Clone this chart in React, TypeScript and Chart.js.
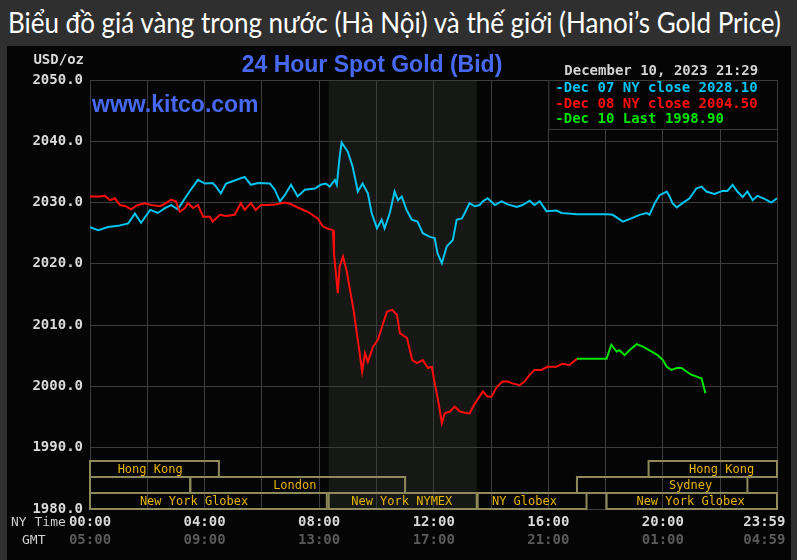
import React, { useEffect, useRef } from "react";
import { Chart, registerables } from "chart.js";

Chart.register(...registerables);

// ---------- texts ----------
const pageTitle = "Biểu đồ giá vàng trong nước (Hà Nội) và thế giới (Hanoi’s Gold Price)";
const chartTitle = "24 Hour Spot Gold (Bid)";
const siteText = "www.kitco.com";
const dateText = "December 10, 2023 21:29";
const yUnit = "USD/oz";
const nyTimeLabel = "NY Time";
const gmtLabel = "GMT";

// ---------- axes ----------
const yMin = 1980;
const yMax = 2050;
const yTicks = [1980, 1990, 2000, 2010, 2020, 2030, 2040, 2050];
const xMin = 0;
const xMax = 1439; // minutes, 00:00 .. 23:59 NY time
const gridMinutes = [0, 120, 240, 360, 480, 600, 720, 840, 960, 1080, 1200, 1320, 1439];
const labelMinutes = [0, 240, 480, 720, 960, 1200, 1439];
const nyTickLabels = ["00:00", "04:00", "08:00", "12:00", "16:00", "20:00", "23:59   "];
const gmtTickLabels = ["05:00", "09:00", "13:00", "17:00", "21:00", "01:00", "04:59   "];

// ---------- series (minutes after 00:00 NY time, USD/oz) ----------
const dec07Minutes = [0, 17, 38, 59, 80, 94, 107, 126, 142, 157, 170, 184, 199, 211, 226, 241, 257, 264, 274, 285, 303, 324, 337, 352, 377, 387, 398, 408, 421, 435, 450, 471, 483, 494, 502, 513, 517, 523, 527, 540, 550, 561, 571, 582, 590, 601, 611, 617, 628, 638, 645, 653, 663, 674, 686, 697, 712, 722, 728, 737, 747, 760, 768, 779, 785, 795, 806, 816, 823, 833, 848, 862, 875, 894, 906, 921, 931, 942, 956, 977, 988, 1020, 1084, 1095, 1116, 1130, 1151, 1166, 1172, 1183, 1193, 1208, 1214, 1220, 1229, 1241, 1256, 1270, 1281, 1291, 1308, 1325, 1335, 1346, 1356, 1367, 1377, 1388, 1398, 1413, 1427, 1439];
const dec07Values = [2026.0, 2025.5, 2026.0, 2026.2, 2026.6, 2028.2, 2026.7, 2028.8, 2028.3, 2029.1, 2029.6, 2028.9, 2030.7, 2032.1, 2033.7, 2033.1, 2033.2, 2032.6, 2031.5, 2033.1, 2033.6, 2034.2, 2032.9, 2033.2, 2033.1, 2032.1, 2030.2, 2031.2, 2032.9, 2031.0, 2032.1, 2032.3, 2032.9, 2033.1, 2032.6, 2033.7, 2032.9, 2037.5, 2039.8, 2038.3, 2035.9, 2031.8, 2033.1, 2031.5, 2028.3, 2025.8, 2027.2, 2025.8, 2028.3, 2031.8, 2030.4, 2031.0, 2028.8, 2027.2, 2026.9, 2025.0, 2024.4, 2024.2, 2021.7, 2020.1, 2022.8, 2023.9, 2027.2, 2027.4, 2028.3, 2029.9, 2029.4, 2029.6, 2030.2, 2030.7, 2029.6, 2030.2, 2029.7, 2029.3, 2029.6, 2030.3, 2029.6, 2030.2, 2028.6, 2028.7, 2028.3, 2028.1, 2028.1, 2028.0, 2026.9, 2027.3, 2028.0, 2028.3, 2028.0, 2029.9, 2031.2, 2031.8, 2031.0, 2029.9, 2029.2, 2029.9, 2030.7, 2032.3, 2032.6, 2031.8, 2031.4, 2031.9, 2031.9, 2032.9, 2031.8, 2030.9, 2031.8, 2030.4, 2031.1, 2030.6, 2030.0, 2030.7];

const dec08Minutes = [0, 21, 31, 42, 52, 63, 75, 86, 100, 115, 128, 147, 159, 170, 180, 188, 199, 205, 216, 226, 237, 251, 257, 272, 285, 303, 316, 324, 337, 347, 358, 373, 387, 408, 419, 435, 456, 477, 488, 496, 509, 511, 515, 519, 523, 530, 538, 544, 551, 561, 570, 576, 582, 593, 603, 614, 622, 633, 643, 649, 664, 675, 685, 697, 708, 716, 722, 729, 737, 743, 754, 764, 775, 785, 795, 806, 823, 833, 841, 852, 864, 875, 885, 900, 910, 921, 931, 946, 958, 977, 989, 1004, 1015, 1020];
const dec08Values = [2031.0, 2031.0, 2031.1, 2030.4, 2030.7, 2029.6, 2029.4, 2028.9, 2029.6, 2029.9, 2029.6, 2029.4, 2029.9, 2030.5, 2030.2, 2028.5, 2029.1, 2029.9, 2029.1, 2029.6, 2027.7, 2027.7, 2026.9, 2028.0, 2027.8, 2028.0, 2029.9, 2028.8, 2029.9, 2028.8, 2029.6, 2029.6, 2029.7, 2030.0, 2029.8, 2029.2, 2028.5, 2027.4, 2026.1, 2025.8, 2025.5, 2021.7, 2018.5, 2015.2, 2019.6, 2021.2, 2018.7, 2016.0, 2013.0, 2007.6, 2002.4, 2005.4, 2004.0, 2006.5, 2007.6, 2010.3, 2012.2, 2012.5, 2011.7, 2008.7, 2007.9, 2004.3, 2003.8, 2004.3, 2003.0, 2003.2, 2000.5, 1997.8, 1994.0, 1995.6, 1995.9, 1996.7, 1995.9, 1995.7, 1995.6, 1997.2, 1999.2, 1998.3, 1998.3, 1999.9, 2000.8, 2000.8, 2000.5, 2000.2, 2000.8, 2001.9, 2002.7, 2002.7, 2003.2, 2003.2, 2003.7, 2003.5, 2004.2, 2004.5];

const dec10Minutes = [1020, 1082, 1088, 1092, 1103, 1109, 1120, 1130, 1145, 1158, 1172, 1189, 1200, 1208, 1218, 1229, 1239, 1250, 1260, 1271, 1281, 1289];
const dec10Values = [2004.5, 2004.5, 2005.9, 2006.8, 2005.7, 2005.9, 2005.1, 2005.9, 2006.9, 2006.5, 2005.9, 2005.1, 2004.3, 2003.2, 2002.7, 2003.0, 2003.0, 2002.4, 2001.9, 2001.6, 2001.3, 1998.9];

// ---------- legend ----------
const legendLabels = ["-Dec 07 NY close 2028.10", "-Dec 08 NY close 2004.50", "-Dec 10 Last 1998.90"];
const seriesColors = ["#00c4f0", "#ff0d0d", "#00e400"];
const legendFromMinute = 960;
const legendBottomValue = 2042;

// ---------- trading sessions ----------
const sessionNames = ["Hong Kong", "", "London", "New York Globex", "New York NYMEX", "NY Globex", "Sydney", "Hong Kong", "New York Globex"];
const sessionRows = [0, 1, 1, 2, 2, 2, 1, 0, 2];
const sessionStarts = [0, 0, 210, 0, 500, 812, 1020, 1170, 1082];
const sessionEnds = [270, 210, 660, 496, 810, 1040, 1377, 1439, 1439];
const sessionLabelAt = [126, 105, 429, 218, 653, 910, 1258, 1323, 1258];
const sessionRowHeight = 2.61; // USD units per row
const shadeStart = 500; // NYMEX 08:20
const shadeEnd = 810; // 13:30

const gridColor = "#3d3d3d";
const monoFont = '"DejaVu Sans Mono", monospace';

function labelFor(list: string[]) {
  return (v: any) => {
    const i = labelMinutes.indexOf(Number(v));
    return i >= 0 ? list[i] : "";
  };
}

const decorPlugin = {
  id: "kitcoDecor",
  beforeDraw(chart: any) {
    const { ctx, chartArea, scales } = chart;
    ctx.save();
    ctx.fillStyle = "#050506";
    ctx.fillRect(0, 0, chart.width, chart.height);
    const l = scales.x.getPixelForValue(shadeStart);
    const r = scales.x.getPixelForValue(shadeEnd);
    ctx.fillStyle = "#151815";
    ctx.fillRect(l, chartArea.top, r - l, chartArea.bottom - chartArea.top);
    ctx.restore();
  },
  beforeDatasetsDraw(chart: any) {
    const { ctx, scales } = chart;
    const x = scales.x;
    const y = scales.y;
    ctx.save();
    ctx.lineWidth = 2;
    ctx.strokeStyle = "#8e8a5c";
    ctx.font = `12px ${monoFont}`;
    ctx.textAlign = "center";
    ctx.textBaseline = "middle";
    ctx.fillStyle = "#e6b400";
    sessionNames.forEach((name, i) => {
      const row = sessionRows[i];
      const bottom = y.getPixelForValue(yMin + (2 - row) * sessionRowHeight);
      const top = y.getPixelForValue(yMin + (3 - row) * sessionRowHeight);
      const l = x.getPixelForValue(sessionStarts[i]);
      const r = x.getPixelForValue(sessionEnds[i]);
      ctx.strokeRect(l, top, r - l, bottom - top);
      if (name) ctx.fillText(name, x.getPixelForValue(sessionLabelAt[i]), (top + bottom) / 2 + 1);
    });
    ctx.restore();
  },
  afterDatasetsDraw(chart: any) {
    const { ctx, chartArea, scales } = chart;
    const x = scales.x;
    const y = scales.y;
    ctx.save();
    // legend box
    const bl = x.getPixelForValue(legendFromMinute);
    const bt = chartArea.top;
    const bb = y.getPixelForValue(legendBottomValue);
    const br = chartArea.right;
    ctx.fillStyle = "#050506";
    ctx.fillRect(bl, bt, br - bl, bb - bt);
    ctx.strokeStyle = gridColor;
    ctx.lineWidth = 1;
    ctx.strokeRect(bl + 0.5, bt + 0.5, br - bl, bb - bt);
    ctx.font = `bold 14px ${monoFont}`;
    ctx.textAlign = "left";
    ctx.textBaseline = "middle";
    const offs = [8, 24, 39.5];
    legendLabels.forEach((t, i) => {
      ctx.fillStyle = seriesColors[i];
      ctx.fillText(t, bl + 7, bt + offs[i]);
    });
    // date
    ctx.fillStyle = "#d4d4d4";
    ctx.fillText(dateText, bl + 16, bt - 9);
    // titles
    ctx.fillStyle = "#4769f2";
    ctx.font = 'bold 23px "Liberation Sans", Arial, sans-serif';
    ctx.textAlign = "center";
    ctx.fillText(chartTitle, 365, 20);
    ctx.textAlign = "left";
    ctx.fillText(siteText, chartArea.left + 2, 60);
    // unit
    ctx.fillStyle = "#d8d8d8";
    ctx.font = `bold 14px ${monoFont}`;
    ctx.textAlign = "right";
    ctx.fillText(yUnit, chartArea.left - 6, 14);
    // NY Time / GMT
    ctx.font = `13px ${monoFont}`;
    ctx.textAlign = "left";
    ctx.fillStyle = "#cfcfcf";
    ctx.fillText(nyTimeLabel, 4, scales.x.top + 13.4);
    ctx.fillText(gmtLabel, 15, scales.x2.top + 11.4);
    ctx.restore();
  },
};

export default function App() {
  const canvasRef = useRef<HTMLCanvasElement>(null);
  const titleRef = useRef<HTMLSpanElement>(null);

  useEffect(() => {
    const t = titleRef.current;
    if (t) {
      const w = t.offsetWidth;
      if (w > 0) t.style.transform = `scaleX(${773 / w})`;
    }
    const canvas = canvasRef.current;
    if (!canvas) return;
    const mk = (mins: number[], vals: number[]) => mins.map((m, i) => ({ x: m, y: vals[i] }));
    const tickFont = { family: monoFont, size: 14, weight: "bold" as const };
    const chart = new Chart(canvas, {
      type: "line",
      data: {
        datasets: [
          { label: "Dec 10", data: mk(dec10Minutes, dec10Values), borderColor: seriesColors[2], borderWidth: 2, pointRadius: 0, tension: 0 },
          { label: "Dec 08", data: mk(dec08Minutes, dec08Values), borderColor: seriesColors[1], borderWidth: 2, pointRadius: 0, tension: 0 },
          { label: "Dec 07", data: mk(dec07Minutes, dec07Values), borderColor: seriesColors[0], borderWidth: 2, pointRadius: 0, tension: 0 },
        ],
      },
      options: {
        responsive: false,
        animation: false,
        devicePixelRatio: 1,
        events: [],
        layout: { padding: { top: 34, right: 14, left: 0, bottom: 0 } },
        plugins: { legend: { display: false }, tooltip: { enabled: false }, title: { display: false } },
        scales: {
          x: {
            type: "linear",
            min: xMin,
            max: xMax,
            position: "bottom",
            weight: 0,
            afterBuildTicks: (s: any) => { s.ticks = gridMinutes.map((v) => ({ value: v })); },
            afterFit: (s: any) => { s.height = 20; s.paddingLeft = 0; s.paddingRight = 0; },
            grid: { color: gridColor, lineWidth: 1, drawTicks: false },
            border: { color: gridColor },
            ticks: { autoSkip: false, maxRotation: 0, padding: 5, color: "#d8d8d8", font: tickFont, callback: labelFor(nyTickLabels) },
          },
          x2: {
            type: "linear",
            min: xMin,
            max: xMax,
            position: "bottom",
            weight: 1,
            afterBuildTicks: (s: any) => { s.ticks = gridMinutes.map((v) => ({ value: v })); },
            afterFit: (s: any) => { s.height = 31; s.paddingLeft = 0; s.paddingRight = 0; },
            grid: { display: false, drawTicks: false },
            border: { display: false },
            ticks: { autoSkip: false, maxRotation: 0, padding: 3, color: "#5a5a5a", font: tickFont, callback: labelFor(gmtTickLabels) },
          },
          y: {
            type: "linear",
            min: yMin,
            max: yMax,
            afterBuildTicks: (s: any) => { s.ticks = yTicks.map((v) => ({ value: v })); },
            afterFit: (s: any) => { s.width = 83; },
            grid: { color: gridColor, lineWidth: 1, drawTicks: false },
            border: { color: gridColor },
            ticks: { padding: 7, color: "#dadada", font: tickFont, callback: (v: any) => Number(v).toFixed(1) },
          },
        },
      },
      plugins: [decorPlugin],
    });
    return () => chart.destroy();
  }, []);

  return (
    <div style={{ position: "absolute", left: 0, top: 0, width: 797, height: 560, background: "#2f2f2f", overflow: "hidden" }}>
      <div style={{ position: "absolute", left: 8, top: 3, height: 38, lineHeight: "38px", whiteSpace: "nowrap", color: "#ffffff", fontFamily: "Lato, sans-serif", fontSize: 28 }}>
        <span ref={titleRef} style={{ display: "inline-block", transformOrigin: "0 50%" }}>{pageTitle}</span>
      </div>
      <canvas ref={canvasRef} width={784} height={514} style={{ position: "absolute", left: 7, top: 46, width: 784, height: 514 }} />
    </div>
  );
}
